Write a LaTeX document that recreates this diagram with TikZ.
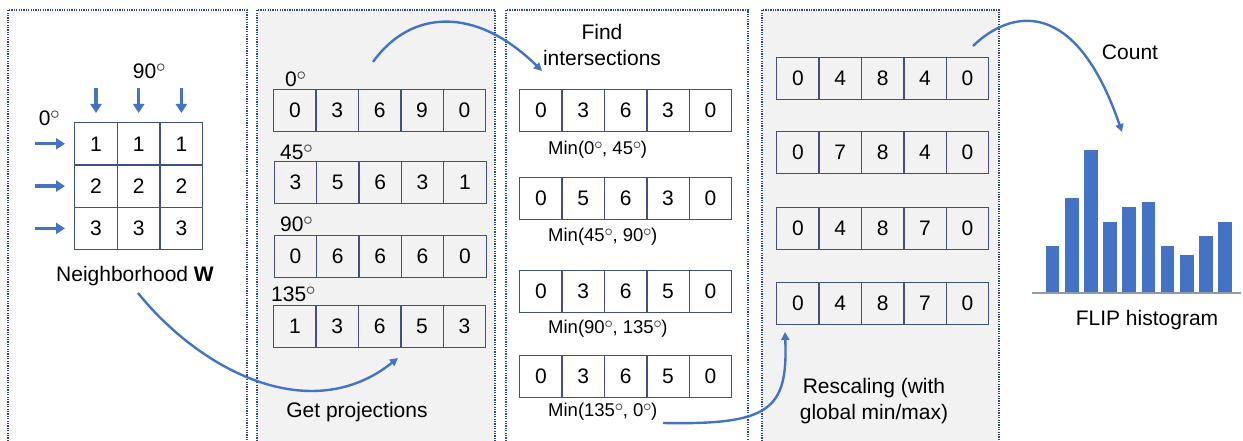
\documentclass[tikz,border=0pt]{standalone}
\usepackage{fontspec}
\setmainfont{Liberation Sans}
\usetikzlibrary{arrows.meta}
\definecolor{flowblue}{HTML}{4472C4}
\definecolor{panelgray}{HTML}{F2F2F2}
\definecolor{framenavy}{HTML}{2B4A8A}
\definecolor{cellline}{HTML}{3E5180}
\definecolor{axisgray}{HTML}{8C9BB5}

% raised thin ring used as the degree mark
\newcommand{\dg}{\kern0.5pt\tikz[baseline=0pt,x=1em,y=1em]
  \draw[black!65,line width=0.045em] (0.18,0.54) circle[radius=0.16];\kern0.5pt}

% text sizes
\newcommand{\bigtext}{\fontsize{21}{26}\selectfont}
\newcommand{\smalltext}{\fontsize{18.5}{22}\selectfont}

% one row of five value cells: name, left x, top y, values
\newcommand{\valrow}[4]{%
  \foreach \v [count=\i] in {#4} {
    \node[cell] (#1-\i) at ({#2+(\i-1)*42.4},#3) {\v};
  }}

\begin{document}
\begin{tikzpicture}[x=1pt,y=-1pt,
  every node/.style={font=\bigtext},
  cell/.style={draw=cellline, line width=1.3pt, minimum width=42.4pt,
    minimum height=42pt, inner sep=0pt, anchor=north west},
  gcell/.style={cell, minimum width=42.7pt, minimum height=42.3pt},
  panel/.style={draw=framenavy, line width=1.8pt, dash pattern=on 1.3pt off 1.1pt},
  tag/.style={inner sep=0pt, anchor=west},
  minlabel/.style={inner sep=0pt, anchor=west},
  dirarrow/.style={draw=flowblue, line width=3.2pt, -{Triangle[length=9pt,width=11pt]}},
  flow/.style={draw=flowblue, line width=2.4pt, -{Triangle[length=8pt,width=8pt]}},
  bar/.style={fill=flowblue, draw=none},
]
\useasboundingbox (0,0) rectangle (1243,441);

% ---- panels ----
\fill[panelgray] (257,10) rectangle (495,441);
\fill[panelgray] (762,10) rectangle (999,441);
\foreach \a/\b in {8/247, 257/495, 506/748, 762/999}
  \draw[panel] (\a,441) -- (\a,10) -- (\b,10) -- (\b,441);

% ---- neighborhood W ----
\foreach \i in {1,2,3}
  \foreach \c in {1,2,3}
    \node[gcell] (w-\i-\c) at ({74+(\c-1)*42.7},{122+(\i-1)*42.3}) {\i};
\node[inner sep=0pt] (deg0) at (49,118) {0\dg};
\node[inner sep=0pt] (deg90) at (149,71) {90\dg};
\foreach \i in {1,2,3} {
  \coordinate (ra-\i) at (35,0 |- w-\i-1.west);
  \draw[dirarrow, shorten >=9pt] (ra-\i) -- (w-\i-1.west);
}
\foreach \c in {1,2,3} {
  \coordinate (da-\c) at (w-1-\c.north |- 0,88);
  \draw[dirarrow, shorten >=9pt] (da-\c) -- (w-1-\c.north);
}
\node (wlabel) at (135,276) {Neighborhood \textbf{W}};

% ---- projections ----
\node[tag] (t0) at (285,79) {0\dg};
\valrow{pa}{273}{89}{0,3,6,9,0}
\node[tag] (t45) at (280,152) {45\dg};
\valrow{pb}{273.5}{161}{3,5,6,3,1}
\node[tag] (t90) at (280,224) {90\dg};
\valrow{pc}{273.5}{235}{0,6,6,6,0}
\node[tag] (t135) at (271,294) {135\dg};
\valrow{pd}{273}{305}{1,3,6,5,3}
\node (projlabel) at (357,412) {Get projections};

% ---- intersections ----
\node[align=center, inner sep=0pt] (findlabel) at (602,45) {Find\\intersections};
\valrow{ia}{519}{89}{0,3,6,3,0}
\node[minlabel] (ma) at (548,150) {\smalltext Min(0\dg, 45\dg)};
\valrow{ib}{519}{177}{0,5,6,3,0}
\node[minlabel] (mb) at (548,237) {\smalltext Min(45\dg, 90\dg)};
\valrow{ic}{519}{270}{0,3,6,5,0}
\node[minlabel] (mc) at (548,329) {\smalltext Min(90\dg, 135\dg)};
\valrow{id}{519}{355}{0,3,6,5,0}
\node[minlabel] (md) at (548,412) {\smalltext Min(135\dg, 0\dg)};

% ---- rescaled ----
\valrow{ra}{776}{57}{0,4,8,4,0}
\valrow{rb}{776}{131}{0,7,8,4,0}
\valrow{rc}{776}{207}{0,4,8,7,0}
\valrow{rd}{776}{282}{0,4,8,7,0}
\node[align=center, inner sep=0pt] (rescalelabel) at (874,401) {Rescaling (with\\global min/max)};

% ---- histogram ----
\foreach \x/\t [count=\k] in {1045.7/245.7, 1064.9/197.7, 1084/150, 1103.1/222,
    1122.3/207.3, 1141.5/202, 1160.7/245.7, 1179.9/255, 1199/236, 1218.3/222}
  \fill[bar] (\x,\t) rectangle ++(13.6,{293-\t});
\coordinate (axl) at (1032,293);
\coordinate (axr) at (1241,293);
\draw[axisgray, line width=2pt] (axl) -- (axr);
\node (histlabel) at (1147,320) {FLIP histogram};
\node (countlabel) at (1130,52) {Count};

% ---- flow curves ----
\coordinate (f1s) at (138,293);
\coordinate (f1e) at (398,358);
\draw[flow] (f1s) .. controls (200,370) and (310,428) .. (f1e);
\coordinate (f2s) at (373,62);
\coordinate (f2e) at (542,71);
\draw[flow] (f2s) .. controls (410,10) and (475,5) .. (f2e);
\coordinate (f3s) at (663,423);
\coordinate (f3e) at (785,332);
\draw[flow] (f3s) .. controls (770,425) and (788,410) .. (f3e);
\coordinate (f4s) at (973,46);
\coordinate (f4e) at (1122,132);
\draw[flow] (f4s) .. controls (1010,10) and (1075,-5) .. (f4e);
\end{tikzpicture}
\end{document}
